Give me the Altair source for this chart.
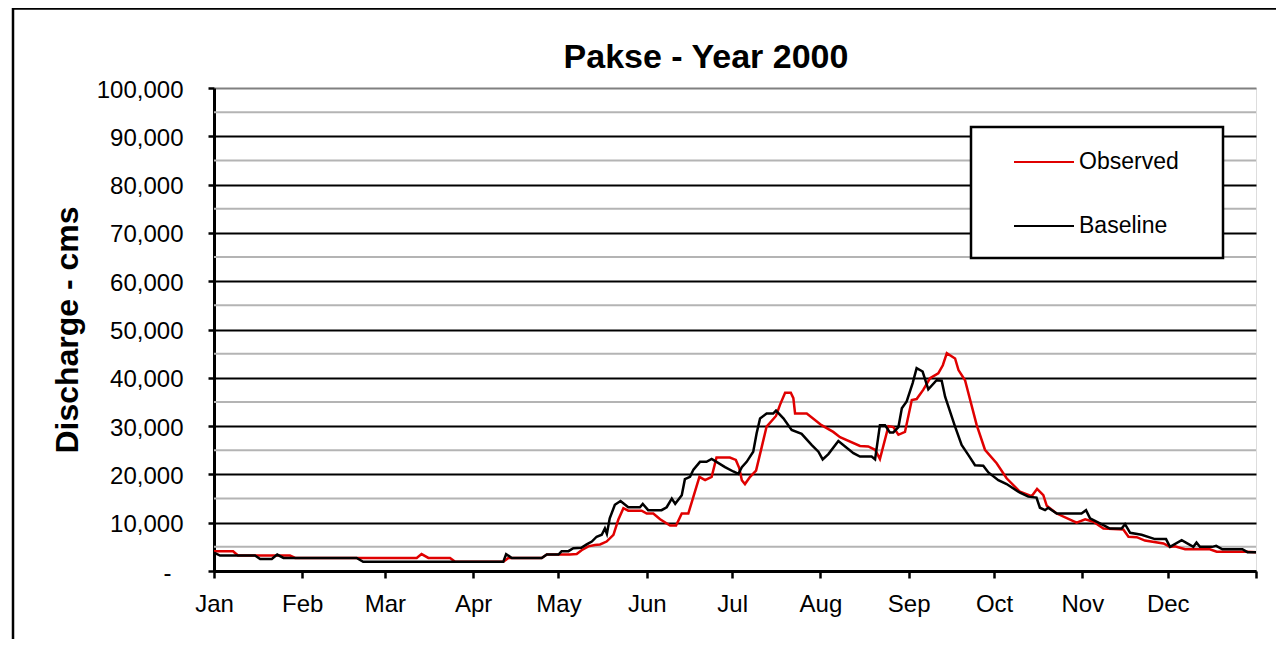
import altair as alt
import pandas as pd

# ---- data (day of year 2000, discharge in cms) ----
obs_day = [0, 6.7, 8.4, 26.7, 28.5, 71.2, 72.9, 75.3, 82.9, 84.7, 101.6, 103.4, 115.1, 116.9,
           125.0, 127.4, 129.1, 131.5, 133.8, 135.6, 137.9, 140.3, 142.0, 143.8, 145.5, 150.2,
           152.0, 154.3, 156.7, 160.2, 162.3, 164.3, 166.6, 168.4, 170.5, 172.5, 174.8, 176.5,
           181.2, 183.3, 184.5, 185.4, 186.5, 188.3, 190.4, 192.4, 194.1, 197.4, 198.8, 200.6,
           202.6, 203.5, 204.1, 208.2, 213.4, 217.5, 219.9, 226.9, 229.8, 232.2, 233.9, 236.9,
           238.6, 240.4, 242.7, 245.1, 246.8, 249.1, 251.5, 254.4, 256.0, 257.4, 260.3, 261.5,
           263.8, 267.9, 270.8, 274.9, 278.4, 283.1, 287.2, 289.1, 291.3, 292.5, 296.0, 303.0,
           306.0, 308.9, 312.4, 319.4, 321.2, 324.1, 327.0, 333.5, 335.8, 337.5, 341.1, 349.8,
           352.2, 362.7, 366.0]
obs_val = [4100, 4100, 3200, 3200, 2700, 2700, 3500, 2700, 2700, 1900, 1900, 2700, 2700, 3400,
           3400, 3500, 4300, 5100, 5400, 5500, 6100, 7500, 10600, 13000, 12500, 12500,
           11900, 11900, 10700, 9400, 9400, 11900, 11900, 15400, 19500, 18800, 19500, 23500,
           23500, 23000, 21300, 18800, 18000, 19500, 20800, 25700, 29900, 32100, 34400, 36900,
           36900, 35800, 32600, 32600, 30200, 28800, 27700, 25900, 25800, 25100, 23200, 30000,
           29800, 28200, 28800, 35400, 35600, 37500, 39900, 40900, 42600, 45100, 44000, 41600,
           39500, 30200, 25100, 22300, 19200, 16400, 15500, 17000, 15700, 13500, 11900, 10000,
           10700, 10200, 8800, 8600, 7100, 7000, 6300, 5700, 5000, 5100, 4500, 4500,
           4000, 4000, 3900]

base_day = [0, 2.1, 14.4, 16.2, 20.3, 22.2, 24.4, 50.1, 52.4, 101.6, 102.6, 104.6, 115.1, 116.9,
            121.0, 122.1, 124.5, 126.2, 129.0, 130.9, 132.7, 134.4, 136.2, 137.3, 138.0, 139.0,
            140.8, 142.8, 145.5, 149.6, 150.6, 152.5, 157.2, 159.0, 160.8, 162.0, 164.3, 165.4,
            167.2, 168.4, 170.7, 173.0, 174.8, 176.5, 179.5, 182.4, 184.2, 185.4, 187.1, 189.4,
            190.6, 191.8, 194.1, 196.4, 197.4, 200.0, 202.9, 206.4, 209.9, 212.3, 213.8, 215.8,
            219.3, 224.6, 226.9, 231.0, 232.2, 233.9, 235.7, 237.4, 238.6, 240.4, 241.6, 243.3,
            245.4, 246.8, 248.9, 250.9, 253.8, 255.6, 256.8, 260.3, 262.6, 265.0, 267.3, 270.2,
            272.0, 275.5, 278.4, 283.1, 286.0, 288.9, 290.1, 291.9, 293.0, 296.0, 304.7, 306.3,
            307.7, 312.4, 314.7, 318.8, 320.0, 321.8, 325.8, 330.5, 334.4, 335.8, 339.9, 344.0,
            345.1, 346.3, 350.6, 352.0, 354.2, 361.2, 363.0, 366.0]
base_val = [3800, 3200, 3200, 2500, 2500, 3400, 2700, 2700, 1900, 1900, 3500, 2700, 2700, 3400,
            3400, 4100, 4100, 4700, 4800, 5500, 6100, 7100, 7500, 8800, 7700, 10900,
            13700, 14500, 13200, 13200, 13900, 12600, 12600, 13200, 15000, 13900, 15700, 19000,
            19500, 21000, 22600, 22600, 23200, 22600, 21500, 20600, 20100, 21500, 22600, 24700,
            28500, 31600, 32600, 32600, 33200, 31600, 29200, 28400, 26100, 24700, 23100, 24200,
            26900, 24400, 23700, 23700, 23100, 30200, 30200, 28700, 28700, 29800, 33700, 35100,
            38900, 42000, 41300, 37600, 39500, 39400, 36100, 29900, 26100, 24000, 21900, 21800,
            20400, 18800, 18000, 16200, 15400, 15200, 13100, 12600, 13100, 11900, 11900, 12600,
            10900, 9500, 8800, 8800, 9700, 7900, 7500, 6600, 6600, 5000, 6400, 5000,
            5900, 5000, 5000, 5200, 4500, 4500, 3900, 3900]

series_names = ["Observed", "Baseline"]
series_colors = ["#e00000", "#000000"]
month_starts = [0, 31, 60, 91, 121, 152, 182, 213, 244, 274, 305, 335, 366]
month_labels = ["Jan", "Feb", "Mar", "Apr", "May", "Jun", "Jul", "Aug", "Sep", "Oct", "Nov", "Dec", ""]
major_ticks = list(range(0, 100001, 10000))
minor_ticks = list(range(5000, 100000, 10000))

FONT = "Liberation Sans"

obs_df = pd.DataFrame({"day": obs_day, "discharge": obs_val, "series": series_names[0]})
base_df = pd.DataFrame({"day": base_day, "discharge": base_val, "series": series_names[1]})
minor_df = pd.DataFrame({"v": minor_ticks})

label_expr = "[" + ",".join("'%s'" % m for m in month_labels) + "][indexof([" + \
    ",".join(str(d) for d in month_starts) + "], datum.value)]"

x_enc = alt.X(
    "day:Q",
    scale=alt.Scale(domain=[0, 366], nice=False, zero=False),
    axis=alt.Axis(
        values=month_starts, labelExpr=label_expr, title=None, grid=False,
        domainColor="black", domainWidth=3, tickColor="black", tickWidth=2.5, tickSize=7,
        labelFont=FONT, labelFontSize=24, labelColor="black", labelPadding=14,
        labelFlush=False, labelOverlap=False,
    ),
)
y_enc = alt.Y(
    "discharge:Q",
    scale=alt.Scale(domain=[0, 100000], nice=False),
    axis=alt.Axis(
        values=major_ticks,
        labelExpr="datum.value == 0 ? '-' : format(datum.value, ',')",
        title="Discharge - cms", titleFont=FONT, titleFontSize=32, titleFontWeight="bold",
        titleColor="black", titleX=-137, titleY=241.5, titleAngle=-90,
        titleBaseline="alphabetic", titleAlign="center",
        grid=True, gridWidth=2,
        gridColor={"condition": {"test": "datum.value >= 100000", "value": "#808080"}, "value": "#000000"},
        domainColor="black", domainWidth=3, tickColor="black", tickWidth=2.5, tickSize=6,
        labelFont=FONT, labelFontSize=24, labelColor="black",
        labelPadding={"condition": {"test": "datum.value == 0", "value": 37}, "value": 25},
        labelOffset=2,
        labelOverlap=False, labelFlush=False,
    ),
)

color_enc = alt.Color(
    "series:N",
    scale=alt.Scale(domain=series_names, range=series_colors),
    legend=alt.Legend(
        title=None, orient="none", legendX=799, legendY=43, symbolType="stroke",
        symbolSize=3600, symbolStrokeWidth=2, labelFont=FONT, labelFontSize=23,
        labelColor="black", rowPadding=21, padding=0, labelOffset=4,
    ),
)

minor = alt.Chart(minor_df).mark_rule(color="#b4b4b4", strokeWidth=2).encode(
    y=alt.Y("v:Q", scale=alt.Scale(domain=[0, 100000], nice=False))
)

obs_line = alt.Chart(obs_df).mark_line(strokeWidth=2.5).encode(x=x_enc, y=y_enc, color=color_enc)
base_line = alt.Chart(base_df).mark_line(strokeWidth=2.5).encode(x=x_enc, y=y_enc, color=color_enc)

legend_box = alt.Chart(pd.DataFrame({"k": [0]})).mark_rect(
    fill="white", stroke="black", strokeWidth=2.5
).encode(x=alt.value(757), x2=alt.value(1009), y=alt.value(39), y2=alt.value(170))

frame = alt.Chart(pd.DataFrame({"k": [0]})).mark_rect(
    fillOpacity=0, stroke="black", strokeWidth=2.5
).encode(x=alt.value(-201), x2=alt.value(1200), y=alt.value(-79.5), y2=alt.value(700))

chart = alt.layer(minor, obs_line, base_line, legend_box, frame).properties(
    width=1042,
    height=483,
    padding={"left": 206, "top": 80, "right": 20, "bottom": 68},
    autosize=alt.AutoSizeParams(type="none"),
    title=alt.TitleParams(
        "Pakse - Year 2000", font=FONT, fontSize=34, fontWeight="bold", color="black",
        anchor="middle", frame="group", dx=-29, dy=99, baseline="alphabetic",
    ),
).configure_view(stroke="#808080", strokeWidth=2).configure(background="white")

chart.save("out.html", embed_options={"renderer": "svg", "actions": False})
